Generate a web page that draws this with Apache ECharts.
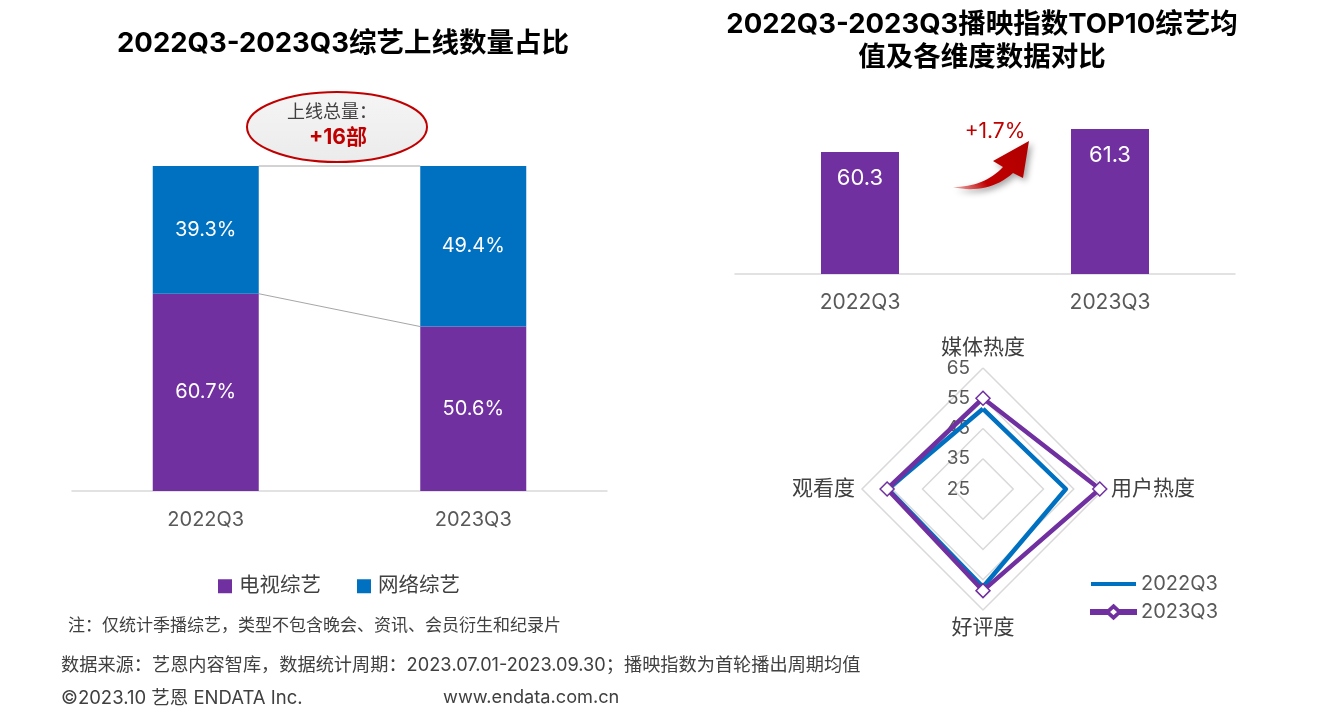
<!DOCTYPE html>
<html>
<head>
<meta charset="utf-8">
<script src="https://cdn.jsdelivr.net/npm/echarts@6/dist/echarts.min.js"></script>
<style>
html,body{margin:0;padding:0;background:#fff;}
#c{width:1328px;height:728px;}
</style>
</head>
<body>
<div id="c"></div>
<script>
// ---- data ----
var shareCategories = ['2022Q3', '2023Q3'];
var tvShare = [60.7, 50.6];      // 电视综艺 %
var webShare = [39.3, 49.4];     // 网络综艺 %
var shareSeriesNames = ['电视综艺', '网络综艺'];

var indexCategories = ['2022Q3', '2023Q3'];
var indexValues = [60.3, 61.3];
var indexGrowth = '+1.7%';

var radarDims = ['媒体热度', '观看度', '好评度', '用户热度'];
var radar2022 = [51.5, 56.4, 57.4, 52.4];
var radar2023 = [55.0, 56.7, 58.6, 63.6];
var radarMin = 25, radarMax = 65;
var radarNames = ['2022Q3', '2023Q3'];

var totalChangeText = '+16部';

var FONT = "Inter,'Noto Sans CJK SC',sans-serif";
var PURPLE = '#7030A0', BLUE = '#0070C0', RED = '#C00000';
var GRAY = '#595959', DARK = '#404040';
var BAR_W = 106;

var totals = tvShare.map(function (v, i) { return v + webShare[i]; });

// decorative curved arrow outline (sampled quadratic curves)
function quad(p0, c, p1, n) {
  var pts = [];
  for (var i = 0; i <= n; i++) {
    var t = i / n, u = 1 - t;
    pts.push([u * u * p0[0] + 2 * u * t * c[0] + t * t * p1[0], u * u * p0[1] + 2 * u * t * c[1] + t * t * p1[1]]);
  }
  return pts;
}
var arrowPts = quad([953, 187], [984, 187], [1003, 167], 16)
  .concat([[993, 161], [1029, 141], [1023, 178]])
  .concat(quad([1013, 173], [988, 195], [953, 187], 16));

var chart = echarts.init(document.getElementById('c'));

var diamondLegend = 'path://M0,5 L16,5 L16,9 L0,9 Z M29,5 L45,5 L45,9 L29,9 Z M22.5,0 L30,7 L22.5,14 L15,7 Z M22.5,2.6 L17.6,7 L22.5,11.4 L27.4,7 Z';
var lineLegend = 'path://M0,5 L45,5 L45,9 L0,9 Z';

var option = {
  backgroundColor: '#fff',
  animation: false,
  textStyle: { fontFamily: FONT },
  title: [
    { text: '2022Q3-2023Q3综艺上线数量占比', left: 338, top: 25, textAlign: 'center',
      textStyle: { fontSize: 27.5, fontWeight: 'bold', color: '#000', fontFamily: FONT } },
    { text: '2022Q3-2023Q3播映指数TOP10综艺均\n值及各维度数据对比', left: 977, top: 3, textAlign: 'center',
      textStyle: { fontSize: 27.5, fontWeight: 'bold', color: '#000', lineHeight: 33, fontFamily: FONT } }
  ],
  legend: [
    { data: shareSeriesNames, left: 218, top: 576, padding: 0, icon: 'rect', itemWidth: 14, itemHeight: 14, itemGap: 36,
      textStyle: { fontSize: 20.5, color: DARK, fontFamily: FONT, padding: [0, 0, 0, 2] } },
    { data: [
        { name: radarNames[0], icon: lineLegend, itemStyle: { color: BLUE } },
        { name: radarNames[1], icon: diamondLegend, itemStyle: { color: PURPLE } }
      ],
      orient: 'vertical', left: 1090, top: 574, padding: 0, itemWidth: 45, itemHeight: 14, itemGap: 8,
      textStyle: { fontSize: 20, color: GRAY, fontFamily: FONT } }
  ],
  grid: [
    { left: 72, right: 1328 - 607, top: 166, bottom: 728 - 491 },
    { left: 735, right: 1328 - 1235, top: 113, bottom: 728 - 274 }
  ],
  xAxis: [
    { type: 'category', gridIndex: 0, data: shareCategories,
      axisLine: { lineStyle: { color: '#d9d9d9', width: 1.5 } }, axisTick: { show: false },
      axisLabel: { fontSize: 20, color: GRAY, margin: 19, fontFamily: FONT } },
    { type: 'category', gridIndex: 1, data: indexCategories,
      axisLine: { lineStyle: { color: '#d9d9d9', width: 1.5 } }, axisTick: { show: false },
      axisLabel: { fontSize: 21, color: GRAY, margin: 18, fontFamily: FONT } }
  ],
  yAxis: [
    { type: 'value', gridIndex: 0, min: 0, max: 100, show: false },
    { type: 'value', gridIndex: 1, min: 55, max: 62, show: false }
  ],
  radar: {
    center: [983, 489], radius: 121, startAngle: 90, splitNumber: 4, shape: 'polygon',
    indicator: radarDims.map(function (n, i) {
      var ind = { name: n, min: radarMin, max: radarMax };
      if (i === 0) ind.axisLabel = { show: true, fontSize: 19, color: GRAY, margin: 13, fontFamily: FONT };
      return ind;
    }),
    nameGap: 7,
    axisName: { fontSize: 21, color: DARK, fontFamily: FONT },
    axisLine: { show: false },
    splitLine: { lineStyle: { color: '#d9d9d9', width: 1.5 } },
    splitArea: { show: false },
    axisLabel: { show: false }
  },
  series: [
    { name: shareSeriesNames[0], type: 'bar', stack: 's', xAxisIndex: 0, yAxisIndex: 0, data: tvShare,
      barWidth: BAR_W, itemStyle: { color: PURPLE },
      label: { show: true, position: 'inside', color: '#fff', fontSize: 20, fontFamily: FONT,
        formatter: function (p) { return p.value.toFixed(1) + '%'; } } },
    { name: shareSeriesNames[1], type: 'bar', stack: 's', xAxisIndex: 0, yAxisIndex: 0, data: webShare,
      barWidth: BAR_W, itemStyle: { color: BLUE },
      label: { show: true, position: 'inside', color: '#fff', fontSize: 20, fontFamily: FONT,
        formatter: function (p) { return p.value.toFixed(1) + '%'; } } },
    { name: 'connector', type: 'custom', xAxisIndex: 0, yAxisIndex: 0, silent: true,
      encode: { x: 0, y: 1 },
      data: [[0, totals[0], totals[1]], [0, tvShare[0], tvShare[1]]],
      renderItem: function (params, api) {
        var p0 = api.coord([0, api.value(1)]);
        var p1 = api.coord([1, api.value(2)]);
        return { type: 'line', shape: { x1: p0[0] + BAR_W / 2, y1: p0[1], x2: p1[0] - BAR_W / 2, y2: p1[1] },
          style: { stroke: '#a6a6a6', lineWidth: 1 } };
      } },
    { name: '播映指数', type: 'bar', xAxisIndex: 1, yAxisIndex: 1, data: indexValues, barWidth: 78,
      itemStyle: { color: PURPLE },
      label: { show: true, position: 'insideTop', distance: 15, color: '#fff', fontSize: 22, fontFamily: FONT } },
    { name: 'radar', type: 'radar',
      data: [
        { name: radarNames[0], value: radar2022, symbol: 'none',
          lineStyle: { color: BLUE, width: 4.5 }, itemStyle: { color: BLUE } },
        { name: radarNames[1], value: radar2023, symbol: 'diamond', symbolSize: 14,
          lineStyle: { color: PURPLE, width: 4.5 },
          itemStyle: { color: '#fff', borderColor: PURPLE, borderWidth: 1.5 } }
      ] }
  ],
  graphic: [
    { type: 'ellipse', shape: { cx: 337, cy: 127, rx: 90, ry: 35 }, z: 10,
      style: { fill: { type: 'linear', x: 0, y: 0, x2: 0, y2: 1,
        colorStops: [{ offset: 0, color: '#f5f5f5' }, { offset: 1, color: '#ebebeb' }] },
        stroke: RED, lineWidth: 2 } },
    { type: 'text', z: 11, style: { text: '上线总量：', x: 332, y: 113, align: 'center', verticalAlign: 'middle',
      font: '18px ' + FONT, fill: DARK } },
    { type: 'text', z: 11, style: { text: totalChangeText, x: 338, y: 138, align: 'center', verticalAlign: 'middle',
      font: 'bold 21px ' + FONT, fill: RED } },
    { type: 'polygon', z: 10,
      shape: { points: arrowPts },
      style: { fill: { type: 'linear', x: 0, y: 1, x2: 1, y2: 0,
        colorStops: [{ offset: 0, color: '#f0b0b0' }, { offset: 0.35, color: '#c00000' }, { offset: 1, color: '#b00000' }] },
        shadowBlur: 6, shadowColor: 'rgba(0,0,0,0.35)', shadowOffsetX: 3, shadowOffsetY: 3 } },
    { type: 'text', z: 11, style: { text: indexGrowth, x: 995, y: 132, align: 'center', verticalAlign: 'middle',
      font: '21px ' + FONT, fill: RED } },
    { type: 'text', style: { text: '注：仅统计季播综艺，类型不包含晚会、资讯、会员衍生和纪录片', x: 68, y: 626,
      verticalAlign: 'middle', font: '17px ' + FONT, fill: DARK } },
    { type: 'text', style: { text: '数据来源：艺恩内容智库，数据统计周期：2023.07.01-2023.09.30；播映指数为首轮播出周期均值',
      x: 61, y: 666, verticalAlign: 'middle', font: '18.2px ' + FONT, fill: DARK } },
    { type: 'text', style: { text: '©2023.10 艺恩 ENDATA Inc.', x: 61, y: 698, verticalAlign: 'middle',
      font: '18.5px ' + FONT, fill: DARK } },
    { type: 'text', style: { text: 'www.endata.com.cn', x: 443, y: 698, verticalAlign: 'middle',
      font: '18.2px ' + FONT, fill: DARK } }
  ]
};
chart.setOption(option);
</script>
</body>
</html>
